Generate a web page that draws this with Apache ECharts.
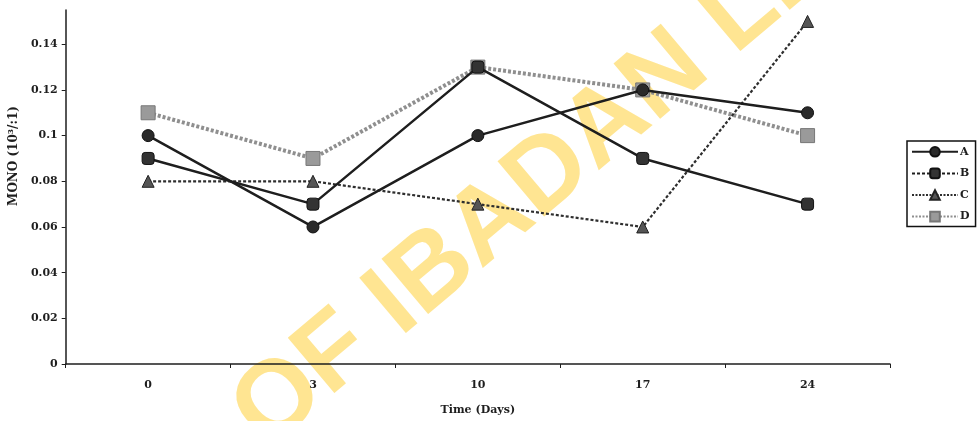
<!DOCTYPE html>
<html>
<head>
<meta charset="utf-8">
<script src="https://cdn.jsdelivr.net/npm/echarts@6/dist/echarts.min.js"></script>
<style>
  html, body { margin: 0; padding: 0; background: #fff; }
  #chart { width: 977px; height: 421px; }
</style>
</head>
<body>
<div id="chart"></div>
<script>
// Sampling days and monocyte counts per group
const days = ['0', '3', '10', '17', '24'];
const seriesA = [0.10, 0.06, 0.10, 0.12, 0.11];
const seriesB = [0.09, 0.07, 0.13, 0.09, 0.07];
const seriesC = [0.08, 0.08, 0.07, 0.06, 0.15];
const seriesD = [0.11, 0.09, 0.13, 0.12, 0.10];
const yTicks = [0, 0.02, 0.04, 0.06, 0.08, 0.1, 0.12, 0.14];

const FONT = '"DejaVu Serif", "Liberation Serif", serif';
const INK = '#1e1e1e';

const chart = echarts.init(document.getElementById('chart'), null, { renderer: 'canvas' });

chart.setOption({
  animation: false,
  backgroundColor: '#ffffff',
  textStyle: { fontFamily: FONT },
  graphic: [{
    type: 'text',
    z: -10,
    silent: true,
    x: 248,
    y: 428,
    rotation: 0.70,
    style: {
      text: 'OF IBADAN LIBRARY',
      fill: '#ffe592',
      font: 'bold 105px "Liberation Sans", Arial, sans-serif',
      textAlign: 'left',
      textVerticalAlign: 'middle'
    }
  }],
  grid: { left: 64, right: 87, top: 10, bottom: 53, containLabel: false },
  legend: {
    orient: 'vertical',
    left: 907,
    top: 141,
    padding: [5, 6, 4, 4],
    itemGap: 10,
    itemWidth: 46,
    itemHeight: 12,
    borderColor: '#111',
    borderWidth: 1.5,
    textStyle: { fontFamily: FONT, fontWeight: 'bold', fontSize: 11, color: INK, padding: [0, 0, 0, -3] },
    data: [
      { name: 'A', lineStyle: { type: 'solid' } },
      { name: 'B', lineStyle: { type: [3, 2] } },
      { name: 'C', lineStyle: { type: [2, 1.5] } },
      { name: 'D', lineStyle: { type: [2, 1.5] } }
    ]
  },
  xAxis: {
    type: 'category',
    data: days,
    boundaryGap: true,
    name: 'Time (Days)',
    nameLocation: 'middle',
    nameGap: 41,
    nameTextStyle: { fontFamily: FONT, fontWeight: 'bold', fontSize: 11, color: INK },
    axisLine: { lineStyle: { color: INK, width: 1.5 } },
    axisTick: { show: true, inside: false, length: 4, alignWithLabel: false, lineStyle: { color: INK } },
    axisLabel: { margin: 16, fontFamily: FONT, fontWeight: 'bold', fontSize: 11, color: INK },
    splitLine: { show: false }
  },
  yAxis: {
    type: 'value',
    min: 0,
    max: 0.155,
    name: 'MONO (10³/:1)',
    nameLocation: 'middle',
    nameGap: 38,
    nameRotate: 90,
    nameTextStyle: { fontFamily: FONT, fontWeight: 'bold', fontSize: 12, color: INK, padding: [0, 0, 0, 62] },
    axisLine: { show: true, lineStyle: { color: INK, width: 1.5 } },
    axisTick: { show: true, length: 4, customValues: yTicks, lineStyle: { color: INK } },
    axisLabel: { customValues: yTicks, margin: 8, fontFamily: FONT, fontWeight: 'bold', fontSize: 11, color: INK },
    splitLine: { show: false }
  },
  series: [
    {
      name: 'A', type: 'line', data: seriesA, z: 4,
      symbol: 'circle', symbolSize: 12,
      lineStyle: { color: INK, width: 2.5 },
      itemStyle: { color: '#2a2a2a', borderColor: '#111', borderWidth: 1 }
    },
    {
      name: 'B', type: 'line', data: seriesB, z: 4,
      symbol: 'roundRect', symbolSize: 12,
      lineStyle: { color: INK, width: 2.5 },
      itemStyle: { color: '#333', borderColor: '#111', borderWidth: 1 }
    },
    {
      name: 'C', type: 'line', data: seriesC, z: 3,
      symbol: 'triangle', symbolSize: 12,
      lineStyle: { color: '#2e2e2e', width: 2.2, type: [3, 2] },
      itemStyle: { color: '#555', borderColor: '#222', borderWidth: 1 }
    },
    {
      name: 'D', type: 'line', data: seriesD, z: 2,
      symbol: 'rect', symbolSize: 14,
      lineStyle: { color: '#8f8f8f', width: 4, type: [3, 2] },
      itemStyle: { color: '#9a9a9a', borderColor: '#777', borderWidth: 1 }
    }
  ]
});
</script>
</body>
</html>
